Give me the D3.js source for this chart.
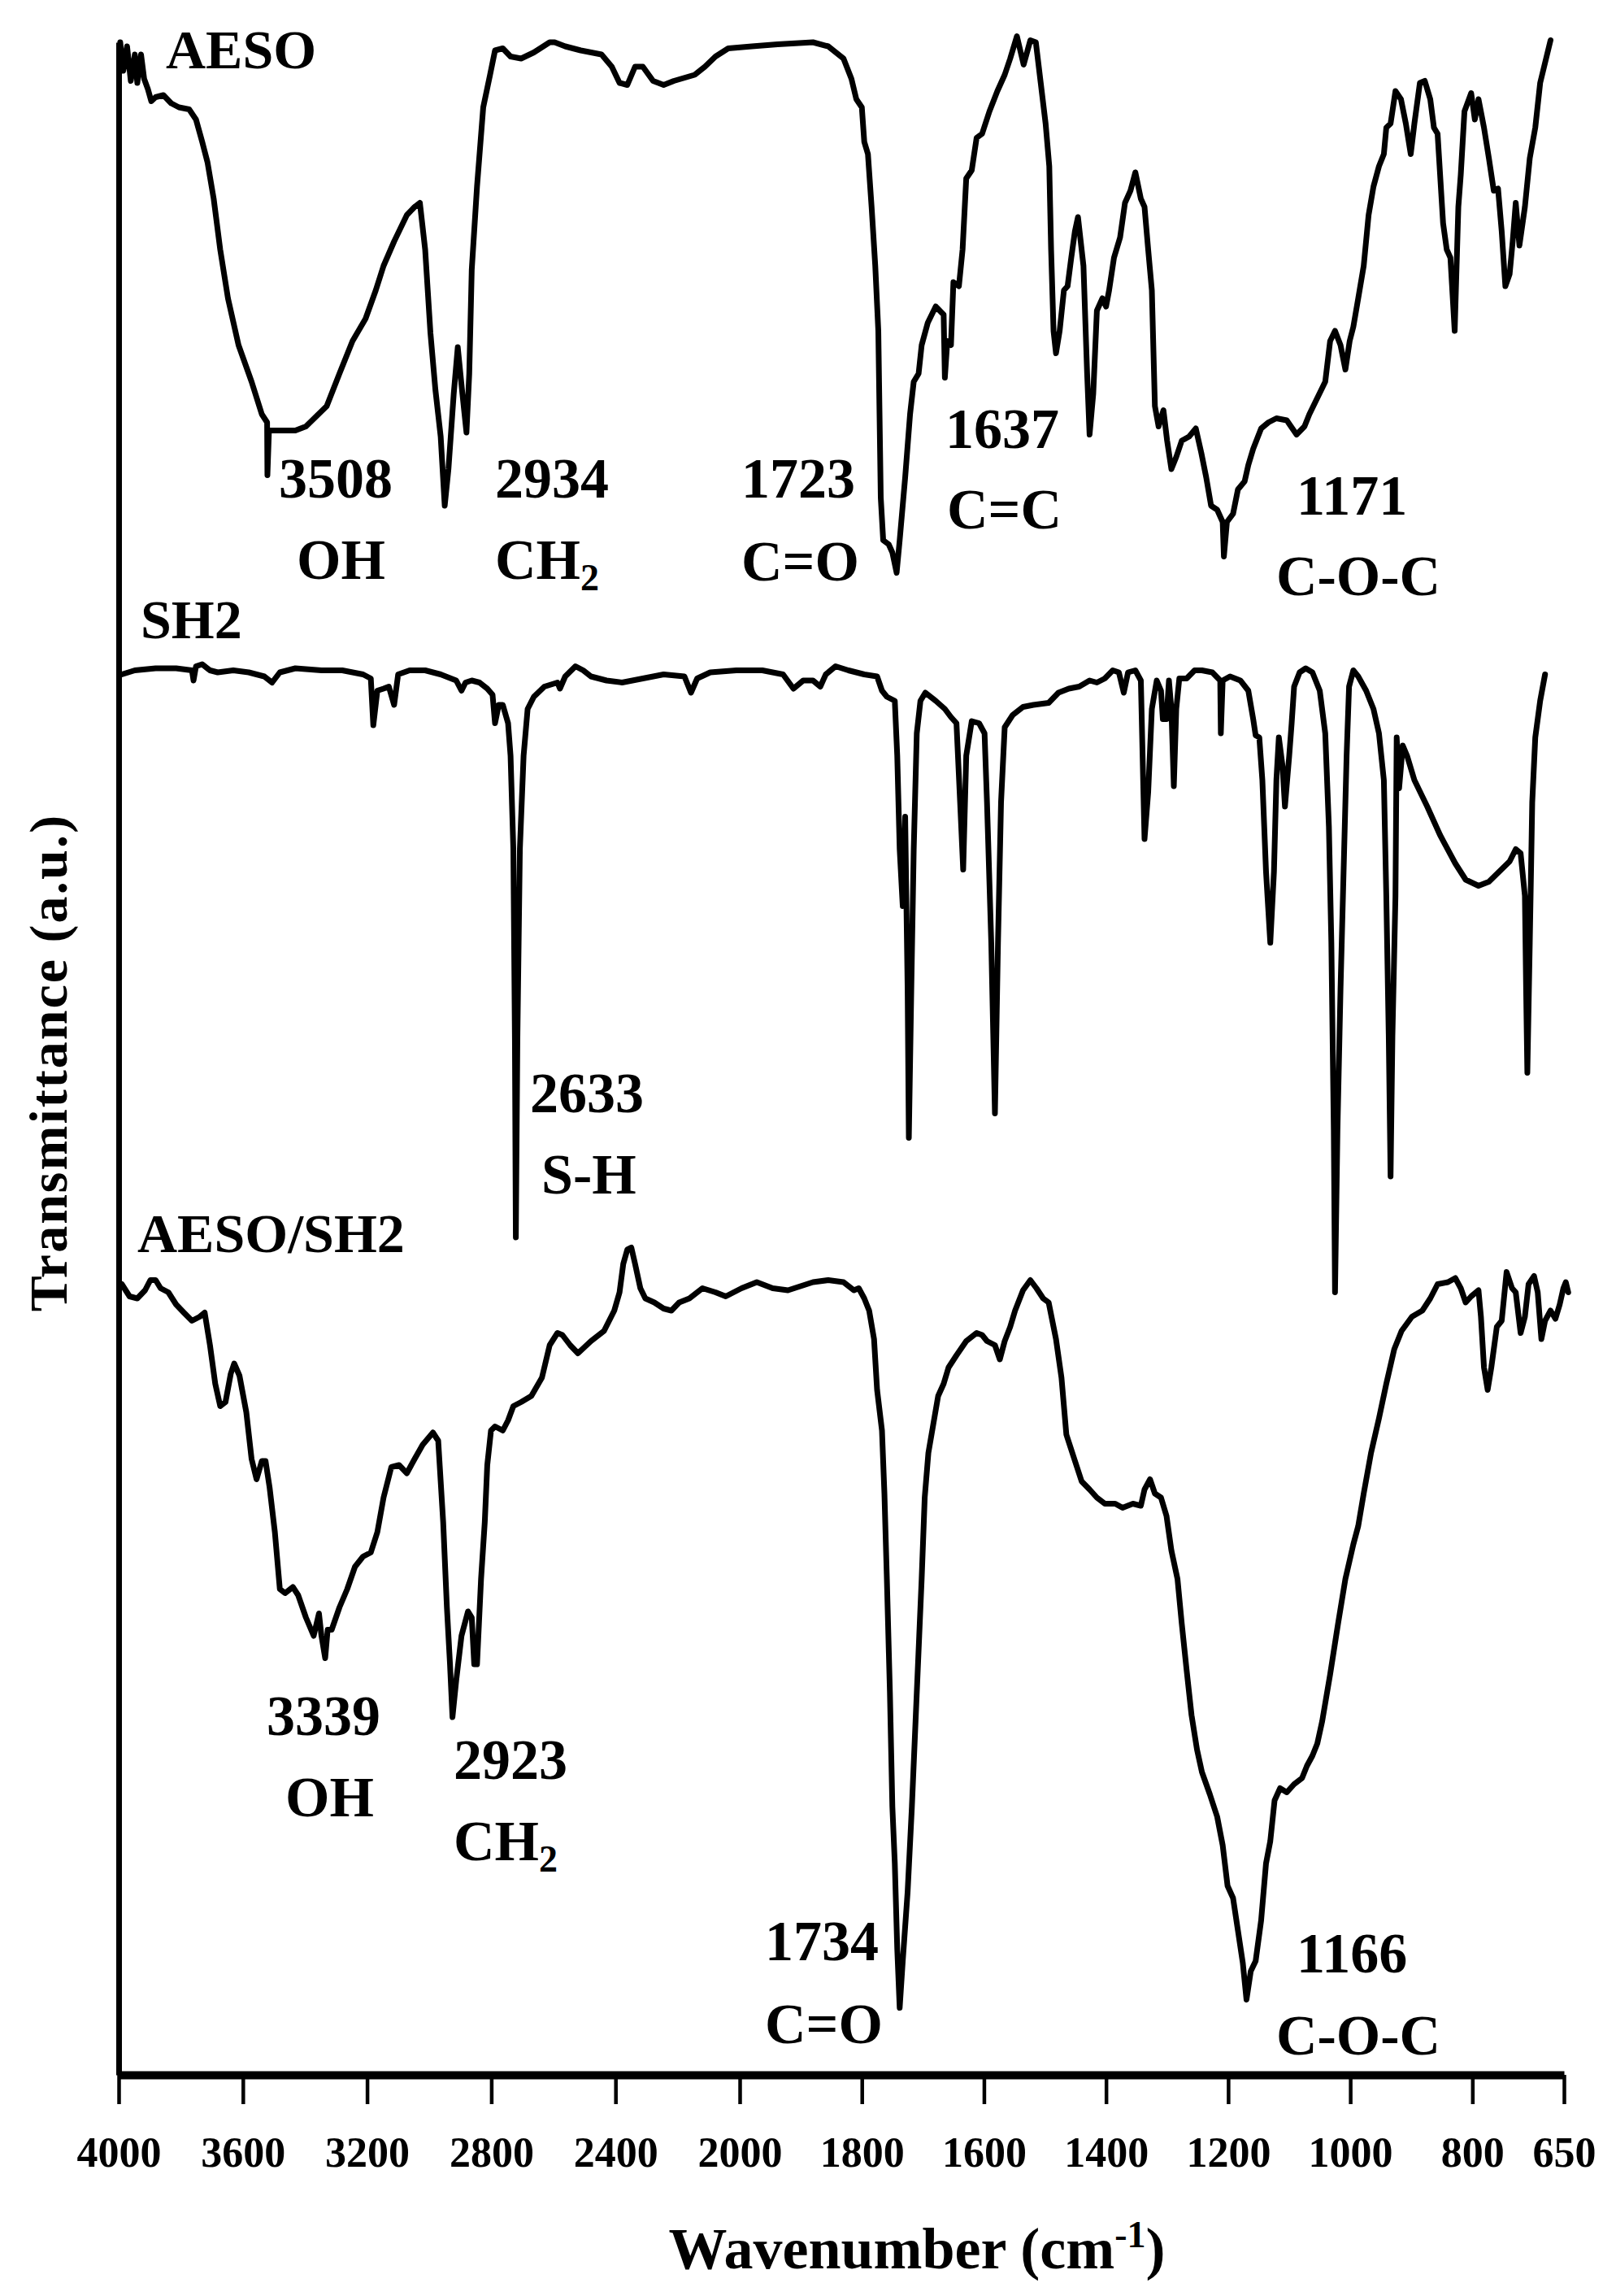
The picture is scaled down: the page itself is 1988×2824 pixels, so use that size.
<!DOCTYPE html>
<html>
<head>
<meta charset="utf-8">
<script src="https://cdn.jsdelivr.net/npm/d3@7"></script>
<style>
  body { margin: 0; background: #fff; }
  svg text { font-family: "Liberation Serif", "Times New Roman", serif; font-weight: bold; fill: #000; }
</style>
</head>
<body>
<div id="chart"></div>
<script>
// wavenumber (cm-1), transmittance (a.u., stacked as plotted)
var aeso = [
  [3995,100.0],[3985,98.6],[3973,99.8],[3961,98.1],[3948,99.4],[3940,98.0],[3928,99.4],[3918,98.2],
  [3906,97.7],[3895,97.1],[3881,97.3],[3856,97.4],[3831,97.0],[3806,96.8],[3773,96.7],[3751,96.2],
  [3731,95.1],[3714,94.1],[3694,92.3],[3673,89.8],[3648,87.4],[3614,85.1],[3572,83.3],[3539,81.7],
  [3522,81.3],[3521,78.7],[3516,80.9],[3481,80.9],[3431,80.9],[3397,81.1],[3330,82.1],[3289,83.7],
  [3247,85.3],[3205,86.4],[3172,87.8],[3147,89.0],[3113,90.2],[3072,91.5],[3047,91.9],[3030,92.1],
  [3013,89.8],[2996,85.7],[2980,82.9],[2963,80.6],[2950,77.2],[2938,79.0],[2921,82.7],[2908,85.0],
  [2893,82.7],[2880,80.8],[2871,83.7],[2863,88.8],[2846,92.9],[2826,96.8],[2804,98.4],[2788,99.6],
  [2763,99.7],[2738,99.3],[2704,99.2],[2663,99.5],[2612,100.0],[2596,100.0],[2562,99.8],[2512,99.6],
  [2445,99.4],[2412,98.8],[2387,98.0],[2362,97.9],[2337,98.8],[2312,98.8],[2279,98.1],[2245,97.9],
  [2212,98.1],[2145,98.4],[2112,98.8],[2078,99.3],[2037,99.7],[1980,99.8],[1938,99.9],[1880,100.0],
  [1855,99.8],[1830,99.2],[1817,98.2],[1809,97.2],[1800,96.8],[1796,95.1],[1790,94.5],[1784,91.9],
  [1778,89.0],[1773,85.8],[1771,81.7],[1769,77.6],[1765,75.5],[1756,75.3],[1750,74.9],[1743,73.9],
  [1738,75.5],[1729,78.6],[1721,81.7],[1715,83.3],[1707,83.7],[1702,85.1],[1692,86.2],[1679,87.0],
  [1666,86.6],[1664,83.5],[1660,85.3],[1654,85.1],[1650,88.2],[1641,88.0],[1635,89.8],[1629,93.3],
  [1620,93.7],[1612,95.3],[1603,95.5],[1591,96.6],[1578,97.6],[1566,98.4],[1557,99.2],[1546,100.3],
  [1535,98.9],[1524,100.1],[1515,100.0],[1507,98.0],[1499,96.0],[1493,93.9],[1490,89.8],[1486,85.8],
  [1482,84.7],[1476,85.8],[1469,87.8],[1463,88.0],[1457,89.4],[1451,90.7],[1446,91.4],[1437,89.0],
  [1431,83.7],[1427,80.7],[1421,82.7],[1415,86.8],[1406,87.4],[1400,87.0],[1395,87.8],[1387,89.4],
  [1377,90.4],[1369,92.1],[1360,92.7],[1352,93.6],[1343,92.3],[1337,91.9],[1331,89.8],[1325,87.8],
  [1320,82.1],[1314,81.1],[1306,81.9],[1300,80.4],[1293,79.0],[1285,79.6],[1276,80.4],[1264,80.6],
  [1253,81.0],[1244,79.8],[1236,78.6],[1228,77.2],[1218,77.0],[1209,76.4],[1207,74.7],[1202,76.4],
  [1192,76.8],[1184,78.0],[1173,78.4],[1167,79.2],[1159,80.0],[1146,81.0],[1134,81.3],[1121,81.5],
  [1104,81.4],[1088,80.7],[1075,81.1],[1067,81.7],[1054,82.5],[1041,83.3],[1033,85.3],[1025,85.8],
  [1016,85.1],[1008,83.9],[1001,85.3],[995,86.0],[987,87.4],[978,89.0],[970,91.5],[962,92.9],
  [953,93.9],[945,94.5],[941,95.8],[934,96.0],[926,97.6],[917,97.2],[909,96.0],[901,94.5],
  [895,96.0],[886,98.0],[878,98.1],[869,97.2],[863,95.8],[857,95.5],[848,91.1],[842,89.8],
  [836,89.4],[829,85.8],[823,91.9],[819,93.5],[813,96.6],[802,97.5],[796,96.2],[790,97.2],
  [781,95.8],[773,94.3],[765,92.7],[758,92.8],[752,90.7],[746,88.0],[739,88.6],[734,90.2],
  [729,92.1],[723,90.0],[714,91.9],[706,94.3],[697,95.8],[689,98.0],[672,100.1]
];

var sh2 = [
  [3990,68.9],[3948,69.1],[3881,69.2],[3815,69.2],[3764,69.1],[3759,68.6],[3751,69.3],[3731,69.4],
  [3706,69.1],[3681,69.0],[3631,69.1],[3581,69.0],[3531,68.8],[3506,68.5],[3481,69.0],[3431,69.2],
  [3347,69.1],[3280,69.1],[3213,68.9],[3188,68.7],[3180,66.4],[3167,68.1],[3147,68.2],[3130,68.3],
  [3113,67.4],[3100,68.9],[3063,69.1],[3013,69.1],[2963,68.9],[2913,68.6],[2896,68.1],[2883,68.5],
  [2863,68.6],[2838,68.5],[2813,68.2],[2796,67.9],[2788,66.5],[2776,67.4],[2763,67.4],[2746,66.5],
  [2738,64.9],[2729,60.3],[2724,51.0],[2721,41.2],[2716,51.0],[2708,60.3],[2696,64.9],[2683,67.2],
  [2663,67.8],[2629,68.3],[2587,68.5],[2579,68.2],[2562,68.8],[2529,69.3],[2504,69.1],[2479,68.8],
  [2429,68.6],[2379,68.5],[2312,68.7],[2245,68.9],[2178,68.8],[2157,68.0],[2137,68.7],[2095,69.0],
  [2011,69.1],[1963,69.1],[1929,68.9],[1912,68.2],[1896,68.6],[1880,68.6],[1868,68.3],[1859,68.9],
  [1843,69.3],[1822,69.1],[1796,68.9],[1775,68.8],[1767,68.1],[1759,67.8],[1746,67.6],[1742,64.9],
  [1738,60.3],[1733,57.5],[1729,61.9],[1725,53.4],[1723,46.1],[1719,53.4],[1715,60.3],[1710,66.0],
  [1704,67.6],[1696,68.0],[1679,67.6],[1664,67.2],[1654,66.8],[1645,66.5],[1639,62.6],[1634,59.3],
  [1629,64.9],[1620,66.6],[1608,66.5],[1599,66.0],[1595,62.6],[1588,55.7],[1582,47.3],[1577,55.7],
  [1572,62.6],[1566,66.3],[1553,66.9],[1536,67.3],[1519,67.4],[1494,67.5],[1478,68.0],[1461,68.2],
  [1444,68.3],[1427,68.6],[1415,68.5],[1402,68.7],[1389,69.1],[1379,69.0],[1371,68.0],[1364,69.0],
  [1352,69.1],[1343,68.6],[1341,66.0],[1337,60.8],[1331,63.1],[1325,67.2],[1317,68.6],[1310,68.1],
  [1307,66.7],[1301,66.7],[1297,68.6],[1293,67.2],[1289,63.4],[1285,67.2],[1280,68.7],[1268,68.7],
  [1255,69.1],[1243,69.1],[1226,69.0],[1213,68.6],[1212,66.0],[1209,68.6],[1197,68.8],[1180,68.6],
  [1167,68.1],[1159,66.7],[1155,65.9],[1149,65.8],[1144,63.7],[1138,59.2],[1131,55.7],[1125,59.2],
  [1121,63.7],[1117,65.8],[1111,64.4],[1107,62.4],[1100,64.9],[1096,66.5],[1092,68.3],[1083,69.0],
  [1073,69.2],[1062,69.0],[1050,68.1],[1041,66.0],[1035,61.4],[1031,55.7],[1027,46.5],[1025,38.5],
  [1021,46.5],[1016,53.4],[1010,60.3],[1006,64.9],[1002,68.3],[995,69.1],[987,68.8],[974,68.1],
  [962,67.2],[953,66.0],[945,63.7],[941,58.0],[937,51.1],[934,44.2],[931,51.1],[926,58.0],
  [924,65.8],[920,63.3],[914,65.4],[907,64.9],[895,63.7],[874,62.4],[853,61.0],[828,59.6],
  [811,58.8],[790,58.5],[773,58.7],[756,59.2],[739,59.7],[729,60.3],[721,60.1],[714,58.0],
  [712,53.4],[710,49.3],[706,55.7],[702,62.6],[697,65.8],[689,67.6],[681,68.9]
];

var aesoSh2 = [
  [3990,38.9],[3965,38.3],[3940,38.2],[3915,38.6],[3898,39.1],[3881,39.1],[3865,38.7],[3840,38.5],
  [3815,37.9],[3790,37.5],[3764,37.1],[3739,37.3],[3723,37.5],[3706,35.9],[3689,34.0],[3673,32.9],
  [3656,33.1],[3639,34.5],[3628,35.0],[3611,34.4],[3589,32.6],[3572,30.3],[3556,29.3],[3539,30.2],
  [3527,30.2],[3514,28.9],[3497,26.7],[3481,23.9],[3464,23.7],[3439,24.0],[3422,23.6],[3397,22.5],
  [3372,21.6],[3355,22.7],[3347,21.6],[3335,20.5],[3327,21.9],[3314,21.9],[3289,23.0],[3264,23.9],
  [3239,25.0],[3213,25.5],[3188,25.7],[3167,26.7],[3147,28.4],[3122,29.9],[3097,30.0],[3072,29.6],
  [3047,30.3],[3021,31.0],[2988,31.6],[2971,31.2],[2955,27.2],[2943,23.0],[2933,20.2],[2925,17.6],
  [2913,19.4],[2896,21.6],[2875,22.8],[2863,22.5],[2855,20.2],[2846,20.2],[2833,24.4],[2821,27.2],
  [2813,30.0],[2801,31.7],[2788,31.9],[2763,31.7],[2746,32.2],[2729,32.9],[2704,33.1],[2671,33.4],
  [2637,34.3],[2612,35.9],[2587,36.5],[2571,36.4],[2546,35.9],[2521,35.5],[2479,36.1],[2437,36.6],
  [2404,37.6],[2387,38.5],[2375,39.9],[2362,40.6],[2349,40.7],[2337,39.9],[2320,38.7],[2304,38.2],
  [2275,38.0],[2245,37.7],[2220,37.6],[2195,38.0],[2162,38.2],[2120,38.7],[2078,38.5],[2045,38.3],
  [1997,38.7],[1972,39.0],[1946,38.7],[1921,38.6],[1880,39.0],[1855,39.1],[1830,39.0],[1813,38.6],
  [1805,38.7],[1796,38.2],[1788,37.6],[1780,36.2],[1775,33.7],[1767,31.7],[1763,28.6],[1759,24.4],
  [1754,18.8],[1750,13.2],[1746,10.4],[1742,6.2],[1738,3.3],[1733,5.6],[1725,9.0],[1718,13.2],
  [1712,17.4],[1706,21.6],[1702,24.4],[1697,28.4],[1691,30.6],[1683,32.0],[1675,33.4],[1666,34.0],
  [1658,34.8],[1645,35.4],[1629,36.1],[1612,36.5],[1603,36.4],[1595,36.1],[1582,35.9],[1574,35.2],
  [1566,36.1],[1557,36.8],[1549,37.6],[1536,38.6],[1524,39.1],[1514,38.7],[1503,38.2],[1494,38.0],
  [1488,37.1],[1482,36.2],[1473,34.3],[1465,31.5],[1452,30.3],[1440,29.2],[1427,28.8],[1415,28.4],
  [1402,28.1],[1385,28.1],[1373,27.9],[1356,28.1],[1343,28.0],[1337,28.8],[1328,29.3],[1320,28.6],
  [1310,28.4],[1301,27.5],[1293,25.8],[1283,24.4],[1276,22.2],[1268,19.9],[1260,17.7],[1251,16.0],
  [1243,14.9],[1230,13.8],[1218,12.7],[1209,11.3],[1201,9.3],[1192,8.7],[1184,7.1],[1176,5.5],
  [1170,3.7],[1163,5.1],[1155,5.6],[1146,7.6],[1138,10.4],[1131,11.5],[1124,13.5],[1115,14.1],
  [1104,13.9],[1092,14.3],[1079,14.6],[1071,15.2],[1062,15.7],[1054,16.3],[1046,17.4],[1033,19.7],
  [1020,22.2],[1008,24.4],[995,26.1],[987,27.0],[978,28.6],[966,30.6],[953,32.3],[941,34.0],
  [928,35.7],[916,36.6],[899,37.3],[882,37.6],[869,38.2],[857,38.9],[840,39.0],[828,39.2],
  [819,38.7],[811,38.0],[802,38.3],[790,38.6],[786,37.3],[781,34.8],[775,33.7],[769,34.8],
  [760,36.8],[752,37.1],[744,39.5],[735,38.7],[729,38.5],[721,36.5],[714,37.3],[708,38.9],
  [699,39.3],[693,38.5],[687,36.2],[681,37.1],[672,37.6],[664,37.2],[657,37.9],[651,38.7],
  [647,39.0],[643,38.5]
];

var xBreaks = [4000, 2000, 650];
var xTicks = [4000, 3600, 3200, 2800, 2400, 2000, 1800, 1600, 1400, 1200, 1000, 800, 650];

var seriesNames = ["AESO", "SH2", "AESO/SH2"];

// peak labels: wavenumber text and assignment
var peakNumbers = ["3508", "2934", "1723", "1637", "1171", "2633", "3339", "2923", "1734", "1166"];
var peakGroups  = ["OH", "CH2", "C=O", "C=C", "C-O-C", "S-H", "OH", "CH2", "C=O", "C-O-C"];

var W = 1988, H = 2824;
var svg = d3.select('#chart').append('svg')
    .attr('width', W).attr('height', H)
    .style('background', '#fff');

var x = d3.scaleLinear().domain(xBreaks).range([146, 910, 1924]);
var y = d3.scaleLinear().domain([0, 100]).range([2552, 52]);

var line = d3.line()
    .x(function(d) { return x(d[0]); })
    .y(function(d) { return y(d[1]); });

[aeso, sh2, aesoSh2].forEach(function(s) {
    svg.append('path')
        .datum(s)
        .attr('d', line)
        .attr('fill', 'none')
        .attr('stroke', '#000')
        .attr('stroke-width', 7)
        .attr('stroke-linejoin', 'round')
        .attr('stroke-linecap', 'round');
});

// y axis (bare line)
var yAxis = svg.append('g')
    .attr('transform', 'translate(146,0)')
    .call(d3.axisLeft(y).tickValues([]).tickSizeOuter(0));
yAxis.select('.domain').attr('stroke-width', 7);

// x axis
var xAxis = svg.append('g')
    .attr('transform', 'translate(0,2552)')
    .call(d3.axisBottom(x).tickValues(xTicks).tickSize(36).tickSizeOuter(0).tickPadding(40)
        .tickFormat(d3.format('d')));
xAxis.select('.domain').attr('stroke-width', 10);
xAxis.selectAll('.tick line').attr('stroke-width', 4.5);
xAxis.selectAll('.tick text')
    .attr('font-size', 52);

// axis titles
var xt = svg.append('text')
    .attr('x', 1128).attr('y', 2790)
    .attr('text-anchor', 'middle')
    .attr('font-size', 72);
xt.append('tspan').text('Wavenumber (cm');
xt.append('tspan').attr('font-size', 46).attr('dy', -26).text('-1');
xt.append('tspan').attr('dy', 26).text(')');

svg.append('text')
    .attr('transform', 'translate(82,1307) rotate(-90)')
    .attr('text-anchor', 'middle')
    .attr('font-size', 66)
    .attr('letter-spacing', 2)
    .text('Transmittance  (a.u.)');

// series names
var namePos = [[204, 84], [173, 785], [169, 1540]];
seriesNames.forEach(function(n, i) {
    svg.append('text')
        .attr('x', namePos[i][0]).attr('y', namePos[i][1])
        .attr('font-size', 68)
        .text(n);
});

// peak annotations (left x, baseline y)
var labelPos = [
    [343, 612], [609, 612], [912, 612], [1163, 551], [1595, 633],
    [652, 1368], [328, 2134], [558, 2188], [941, 2411], [1595, 2426]
];
var groupPos = [
    [365, 712], [609, 712], [912, 714], [1165, 650], [1570, 732],
    [666, 1468], [351, 2234], [558, 2288], [941, 2513], [1570, 2527]
];

peakNumbers.forEach(function(p, i) {
    svg.append('text')
        .attr('x', labelPos[i][0]).attr('y', labelPos[i][1])
        .attr('font-size', 70)
        .text(p);
    var g = peakGroups[i];
    var t = svg.append('text')
        .attr('x', groupPos[i][0]).attr('y', groupPos[i][1])
        .attr('font-size', 70);
    if (g === 'CH2') {
        t.append('tspan').text('CH');
        t.append('tspan').attr('font-size', 46).attr('dy', 14).text('2');
    } else {
        t.text(g);
    }
});
</script>
</body>
</html>
